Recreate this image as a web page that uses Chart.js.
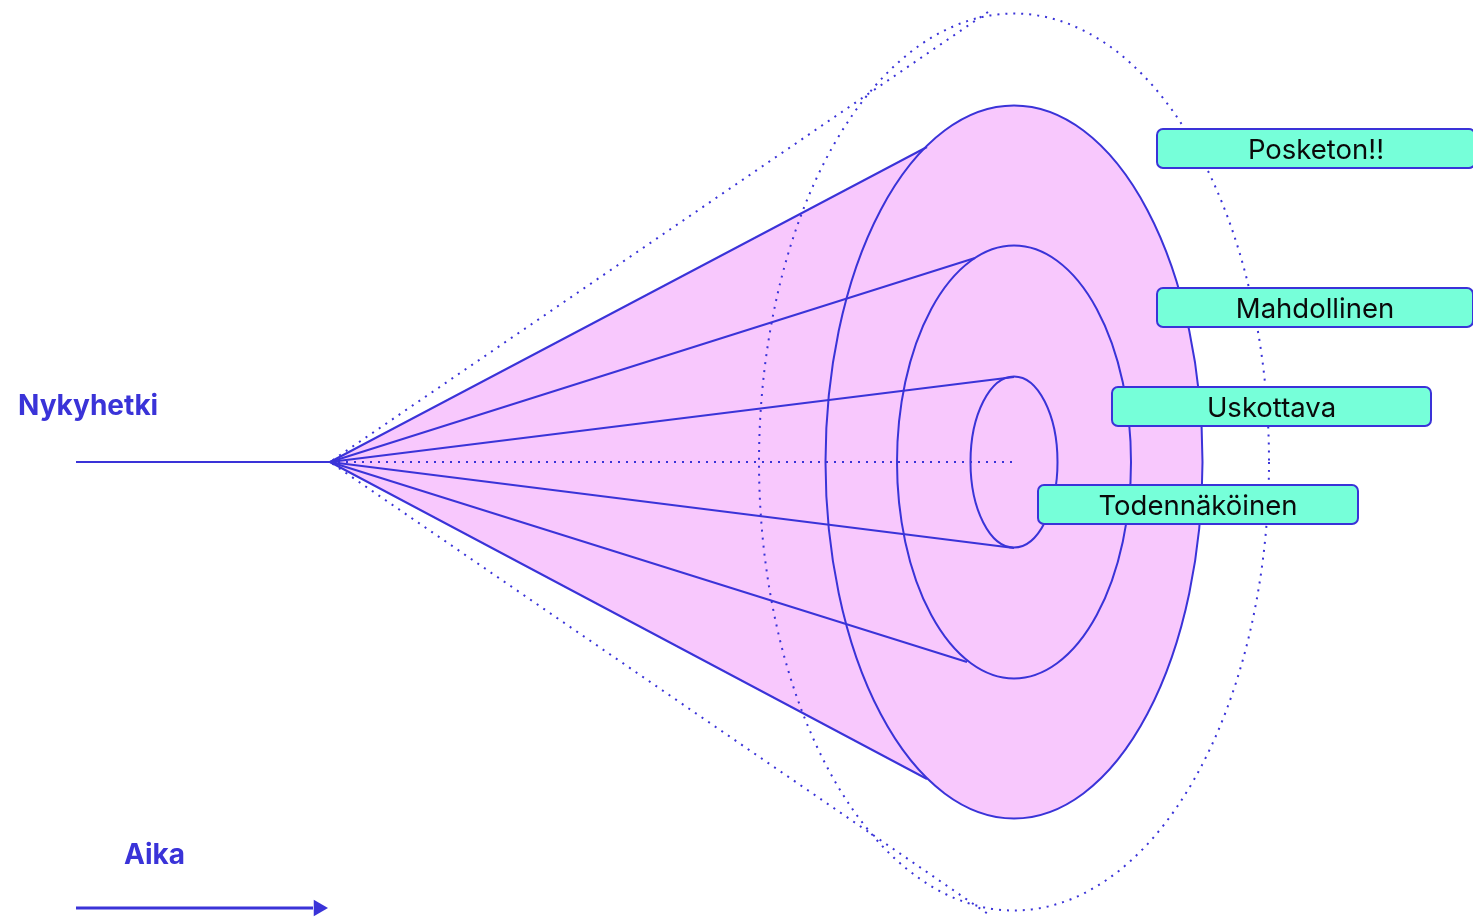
<!DOCTYPE html>
<html>
<head>
<meta charset="utf-8">
<style>
  html, body { margin: 0; padding: 0; background: #ffffff; overflow: hidden; }
  #wrap { width: 1473px; height: 918px; }
</style>
<script src="https://cdn.jsdelivr.net/npm/chart.js@4.4.1/dist/chart.umd.min.js"></script>
</head>
<body>
<div id="wrap"><canvas id="c" width="1473" height="918"></canvas></div>
<script>
// ---------------- DATA ----------------
// Scenario levels, innermost first
const scenarioLabels = ['Todennäköinen', 'Uskottava', 'Mahdollinen', 'Posketon!!'];
// Time (x) of the horizon where the cones end, and "now" (apex)
const nowTime = 0;
const horizonTime = 684;
const presentStartTime = -254;
// Half-widths of each cone at the horizon (ellipse radii)
const coneDepth  = [43.5, 117, 188.5, 255];
const coneSpread = [85.5, 216.5, 356.5, 448.5];
// Points where each cone edge meets its ellipse
const coneTopTime    = [684, 645, 597, 658];
const coneTopValue   = [85, 204, 315, 450];
const coneBottomTime = [684, 637, 597, 658];
const coneBottomValue= [-86, -200, -317, -452];
// Time arrow
const timeArrowStart = -254;
const timeArrowEnd = -17;
const timeArrowTip = -11.5;
const timeArrowLevel = -446;
// Text
const nowLabel = 'Nykyhetki';
const timeLabel = 'Aika';

// ---------------- STYLE / LAYOUT ----------------
const BLUE = '#3a33d8';
const PINK = '#f8c8fd';
const TEAL = '#76ffd9';
const FONT = 'Inter, "DejaVu Sans", sans-serif';
// label boxes: left x (scale units), top y (scale units), width, height (pixels)
const labelBoxLayout = [
  { left: 708, top: -23, width: 320, height: 39 },
  { left: 782, top: 75,  width: 319, height: 39 },
  { left: 827, top: 174, width: 316, height: 39 },
  { left: 827, top: 333, width: 318, height: 39 }
];

// ---------------- DATASETS ----------------
const datasets = [];
// solid cone edges (three inner scenarios)
for (let i = 0; i < 3; i++) {
  datasets.push({
    label: scenarioLabels[i],
    data: [
      { x: coneTopTime[i], y: coneTopValue[i] },
      { x: nowTime, y: 0 },
      { x: coneBottomTime[i], y: coneBottomValue[i] }
    ],
    showLine: true, borderColor: BLUE, borderWidth: 2, pointRadius: 0,
    borderJoinStyle: 'round', tension: 0, fill: false, clip: false
  });
}
// dotted cone edges (outermost scenario)
datasets.push({
  label: scenarioLabels[3],
  data: [
    { x: coneTopTime[3], y: coneTopValue[3] },
    { x: nowTime, y: 0 },
    { x: coneBottomTime[3], y: coneBottomValue[3] }
  ],
  showLine: true, borderColor: BLUE, borderWidth: 2, borderDash: [2, 6],
  pointRadius: 0, tension: 0, fill: false, clip: false
});
// dotted axis to horizon
datasets.push({
  label: 'axis',
  data: [{ x: nowTime, y: 0 }, { x: horizonTime - 2, y: 0 }],
  showLine: true, borderColor: BLUE, borderWidth: 2, borderDash: [2, 6],
  pointRadius: 0, fill: false
});
// present line
datasets.push({
  label: 'present',
  data: [{ x: presentStartTime, y: 0 }, { x: nowTime, y: 0 }],
  showLine: true, borderColor: BLUE, borderWidth: 2, pointRadius: 0, fill: false
});
// time arrow shaft
datasets.push({
  label: 'time',
  data: [{ x: timeArrowStart, y: timeArrowLevel }, { x: timeArrowEnd, y: timeArrowLevel }],
  showLine: true, borderColor: BLUE, borderWidth: 3, pointRadius: 0, fill: false, clip: false
});
// time arrow head
datasets.push({
  label: 'timeHead',
  data: [{ x: timeArrowTip, y: timeArrowLevel }],
  showLine: false, pointStyle: 'triangle', rotation: 90, pointRadius: 9.5,
  backgroundColor: BLUE, borderColor: BLUE, borderWidth: 0, clip: false
});

function px(chart, x) { return chart.scales.x.getPixelForValue(x); }
function py(chart, y) { return chart.scales.y.getPixelForValue(y); }

function ellipsePath(ctx, chart, i) {
  const cx = px(chart, horizonTime), cy = py(chart, 0);
  const rx = Math.abs(px(chart, horizonTime + coneDepth[i]) - cx);
  const ry = Math.abs(py(chart, coneSpread[i]) - cy);
  ctx.beginPath();
  ctx.ellipse(cx, cy, rx, ry, 0, 0, Math.PI * 2);
}

const conePlugin = {
  id: 'cone',
  beforeDatasetsDraw(chart) {
    const ctx = chart.ctx;
    ctx.save();
    // pink body of the outer solid cone
    const o = 2;
    ctx.fillStyle = PINK;
    ctx.beginPath();
    ctx.moveTo(px(chart, nowTime), py(chart, 0));
    ctx.lineTo(px(chart, coneTopTime[o]), py(chart, coneTopValue[o]));
    ctx.lineTo(px(chart, coneBottomTime[o]), py(chart, coneBottomValue[o]));
    ctx.closePath();
    ctx.fill();
    ellipsePath(ctx, chart, o);
    ctx.fill();
    // dotted outermost ellipse
    ctx.strokeStyle = BLUE;
    ctx.lineWidth = 2;
    ctx.setLineDash([2, 6]);
    ellipsePath(ctx, chart, 3);
    ctx.stroke();
    ctx.restore();
  },
  afterDatasetsDraw(chart) {
    const ctx = chart.ctx;
    ctx.save();
    ctx.strokeStyle = BLUE;
    ctx.lineWidth = 2;
    ctx.setLineDash([]);
    for (let i = 0; i < 3; i++) {
      ellipsePath(ctx, chart, i);
      ctx.stroke();
    }
    // label boxes
    scenarioLabels.forEach((lab, i) => {
      const b = labelBoxLayout[i];
      const x = px(chart, b.left), y = py(chart, b.top);
      ctx.beginPath();
      ctx.roundRect(x, y, b.width, b.height, 6);
      ctx.fillStyle = TEAL;
      ctx.fill();
      ctx.lineWidth = 2;
      ctx.strokeStyle = BLUE;
      ctx.stroke();
      ctx.fillStyle = '#0a0a0a';
      ctx.font = '400 27.5px ' + FONT;
      ctx.textAlign = 'center';
      ctx.textBaseline = 'alphabetic';
      ctx.fillText(lab, x + b.width / 2, y + b.height / 2 + 10);
    });
    // side texts
    ctx.fillStyle = BLUE;
    ctx.font = '700 28px ' + FONT;
    ctx.textAlign = 'left';
    ctx.fillText(nowLabel, 18, py(chart, 0) - 47);
    ctx.fillText(timeLabel, 124, py(chart, timeArrowLevel) - 44);
    ctx.restore();
  }
};

new Chart(document.getElementById('c'), {
  type: 'scatter',
  data: { datasets },
  options: {
    responsive: false,
    animation: false,
    devicePixelRatio: 1,
    layout: { padding: 0, autoPadding: false },
    plugins: { legend: { display: false }, tooltip: { enabled: false }, title: { display: false } },
    scales: {
      x: { type: 'linear', min: -330, max: 1143, display: false },
      y: { type: 'linear', min: -456, max: 462, display: false }
    },
    elements: { line: { tension: 0 } }
  },
  plugins: [conePlugin]
});
</script>
</body>
</html>
